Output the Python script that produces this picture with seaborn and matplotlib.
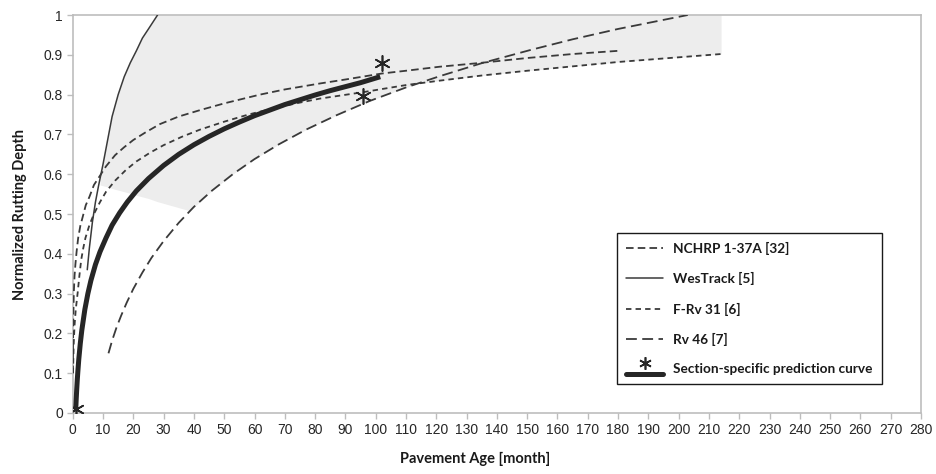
import numpy as np
import pandas as pd
import matplotlib
matplotlib.use("Agg")
import matplotlib.pyplot as plt
import seaborn as sns
from matplotlib.lines import Line2D
from matplotlib.legend_handler import HandlerBase

# ---------------- data ----------------
nchrp_x = [0.05, 0.1, 0.2, 0.35, 0.6, 0.9, 1.3, 1.8, 2.5, 3.3, 4.3, 5.5, 7, 8.8, 11, 14, 17, 20,
           24, 28.8, 35, 42, 50, 61.8, 70, 81.6, 90, 102, 110, 121, 135, 150, 165, 180]
nchrp_y = [0.10, 0.17, 0.24, 0.30, 0.345, 0.375, 0.407, 0.44, 0.47, 0.493, 0.522, 0.543, 0.573,
           0.594, 0.62, 0.648, 0.668, 0.686, 0.705, 0.726, 0.745, 0.761, 0.778, 0.80, 0.813,
           0.828, 0.838, 0.853, 0.86, 0.87, 0.88, 0.892, 0.902, 0.91]

westrack_x = [4.8, 5.5, 6.5, 7.5, 8.5, 10, 11.5, 13, 15, 17, 19, 21, 23, 25, 28]
westrack_y = [0.36, 0.415, 0.48, 0.53, 0.57, 0.625, 0.685, 0.745, 0.80, 0.845, 0.88, 0.91,
              0.942, 0.965, 1.0]

frv31_x = [0.1, 0.3, 0.6, 1, 1.6, 2.2, 2.8, 3.5, 4.2, 5.5, 7, 9, 11, 14, 17.6, 21, 25.5, 30,
           36, 42, 50, 58, 66, 75, 81.6, 95.7, 110, 121, 135, 150, 165, 180, 197, 214]
frv31_y = [0.10, 0.17, 0.22, 0.26, 0.30, 0.345, 0.385, 0.415, 0.44, 0.472, 0.50, 0.53, 0.556,
           0.584, 0.611, 0.632, 0.654, 0.673, 0.694, 0.712, 0.732, 0.75, 0.765, 0.78, 0.79,
           0.806, 0.824, 0.835, 0.848, 0.86, 0.871, 0.882, 0.892, 0.902]

rv46_x = [11.8, 13, 14.5, 16, 17.8, 20, 23, 26, 30, 35, 40, 46, 53, 60, 68, 77, 87, 98, 110,
          121, 135, 151, 165, 180, 203]
rv46_y = [0.15, 0.182, 0.216, 0.245, 0.277, 0.312, 0.353, 0.39, 0.432, 0.478, 0.518, 0.559,
          0.601, 0.638, 0.675, 0.712, 0.748, 0.784, 0.818, 0.846, 0.879, 0.912, 0.939, 0.965, 1.0]

section_x = [1, 1.15, 1.3, 1.5, 1.7, 2, 2.5, 3, 4, 5, 6, 7.5, 9, 11, 13, 15.5, 18, 21, 25, 30,
             35, 40, 45, 50, 55, 60, 65, 70, 75, 80, 85, 90, 95, 101.5]
section_y = [0.01, 0.035, 0.057, 0.083, 0.105, 0.135, 0.175, 0.208, 0.26, 0.30, 0.333, 0.373,
             0.405, 0.44, 0.472, 0.503, 0.53, 0.558, 0.589, 0.622, 0.65, 0.674, 0.695, 0.714,
             0.731, 0.747, 0.761, 0.775, 0.787, 0.799, 0.81, 0.82, 0.83, 0.845]

measured_x = [1, 95.7, 102]
measured_y = [0.01, 0.797, 0.879]

gray_x = [9, 10, 11.5, 13, 15, 17, 19, 21, 23, 25, 28, 38.7, 46, 53, 60, 68, 77, 87, 98,
          110, 114, 121, 135, 150, 165, 180, 197, 214]
gray_upper = [0.60, 0.625, 0.685, 0.745, 0.80, 0.845, 0.88, 0.91, 0.942, 0.965, 1.0, 1.0, 1.0,
              1.0, 1.0, 1.0, 1.0, 1.0, 1.0, 1.0, 1.0, 1.0, 1.0, 1.0, 1.0, 1.0, 1.0, 1.0]
gray_lower = [0.573, 0.571, 0.568, 0.564, 0.56, 0.556, 0.552, 0.547, 0.543, 0.539, 0.531,
              0.508, 0.559, 0.601, 0.638, 0.675, 0.712, 0.748, 0.784, 0.818, 0.828, 0.835,
              0.848, 0.86, 0.871, 0.882, 0.892, 0.902]

x_ticks = list(range(0, 281, 10))
y_ticks = [0, 0.1, 0.2, 0.3, 0.4, 0.5, 0.6, 0.7, 0.8, 0.9, 1]
y_ticklabels = ["0", "0.1", "0.2", "0.3", "0.4", "0.5", "0.6", "0.7", "0.8", "0.9", "1"]

labels = ["NCHRP 1-37A [32]", "WesTrack [5]", "F-Rv 31 [6]", "Rv 46 [7]",
          "Section-specific prediction curve"]

# ---------------- styling ----------------
sns.set_style("white")
plt.rcParams["font.family"] = ["Liberation Sans", "DejaVu Sans"]

LINE_C = "#3a3a3a"
THICK_C = "#262626"
SPINE_C = "#bdbdbd"
BOLD_FONT = ["Lato", "DejaVu Sans"]
LW = 1.3

fig = plt.figure(figsize=(9.36, 4.74), dpi=100)
ax = fig.add_axes([0.0777, 0.1287, 0.9063, 0.8396])

# gray envelope
ax.fill_between(gray_x, gray_lower, gray_upper, color="#ededed", lw=0, zorder=1)

dash_nchrp = (0, (4.2, 2.3))
dash_frv = (0, (3.0, 2.3))
dash_rv46 = (0, (6.0, 3.0))

def draw(x, y, **kw):
    df = pd.DataFrame({"x": x, "y": y})
    sns.lineplot(data=df, x="x", y="y", ax=ax, sort=False, estimator=None, **kw)

draw(nchrp_x, nchrp_y, color=LINE_C, lw=LW, linestyle=dash_nchrp, zorder=3)
draw(westrack_x, westrack_y, color=LINE_C, lw=1.1, zorder=3)
draw(frv31_x, frv31_y, color=LINE_C, lw=LW, linestyle=dash_frv, zorder=3)
draw(rv46_x, rv46_y, color=LINE_C, lw=LW, linestyle=dash_rv46, zorder=3)
draw(section_x, section_y, color=THICK_C, lw=3.6, zorder=4, solid_capstyle="butt")

STAR = (6, 2, 0)
sns.scatterplot(x=measured_x, y=measured_y, ax=ax, marker=STAR, s=120,
                color=THICK_C, edgecolor=THICK_C, linewidth=1.2, zorder=5)

ax.set_xlim(0, 280)
ax.set_ylim(0, 1)
ax.set_xticks(x_ticks)
ax.set_xticklabels([str(t) for t in x_ticks])
ax.set_yticks(y_ticks)
ax.set_yticklabels(y_ticklabels)
ax.tick_params(axis="both", which="major", labelsize=10, colors=SPINE_C,
               labelcolor="#262626", length=4, width=1, direction="out",
               bottom=True, left=True, pad=3)
for s in ax.spines.values():
    s.set_color(SPINE_C)
    s.set_linewidth(1.2)

ax.set_xlabel("Pavement Age [month]", fontsize=10.5, fontweight="bold",
              family=BOLD_FONT, color="#1a1a1a")
ax.xaxis.set_label_coords((475 - 72.7) / 848.3, -0.098)
ax.set_ylabel("Normalized Rutting Depth", fontsize=10.5, fontweight="bold",
              family=BOLD_FONT, color="#1a1a1a", labelpad=12)

# ---------------- legend ----------------
class HandlerLineMarkerAbove(HandlerBase):
    def create_artists(self, legend, orig_handle, xdescent, ydescent, width,
                       height, fontsize, trans):
        yl = height / 2 - ydescent - 4
        line = Line2D([-xdescent, width - xdescent], [yl, yl], lw=3.6,
                      color=THICK_C, solid_capstyle="round")
        mk = Line2D([width / 2 - xdescent], [yl + 8], marker=STAR,
                    markersize=9, mew=1.2, color=THICK_C, linestyle="none")
        line.set_transform(trans)
        mk.set_transform(trans)
        return [line, mk]

h_nchrp = Line2D([], [], color=LINE_C, lw=LW, linestyle=dash_nchrp)
h_west = Line2D([], [], color=LINE_C, lw=1.1)
h_frv = Line2D([], [], color=LINE_C, lw=LW, linestyle=dash_frv)
h_rv46 = Line2D([], [], color=LINE_C, lw=LW, linestyle=dash_rv46)
h_sec = Line2D([], [], color=THICK_C, lw=3.6)

leg = ax.legend([h_nchrp, h_west, h_frv, h_rv46, h_sec], labels,
                loc="upper left", bbox_to_anchor=(617 / 936, 1 - 233 / 474),
                bbox_transform=fig.transFigure, borderaxespad=0,
                frameon=True, fancybox=False, framealpha=1, edgecolor="#1a1a1a",
                prop={"family": BOLD_FONT, "weight": "bold", "size": 9.8},
                handlelength=2.75, handletextpad=0.75, labelspacing=1.27,
                borderpad=0.65, handler_map={h_sec: HandlerLineMarkerAbove()})
leg.get_frame().set_linewidth(1.0)
for t in leg.get_texts():
    t.set_color("#1a1a1a")

fig.savefig("out.png", dpi=100, facecolor="white")
